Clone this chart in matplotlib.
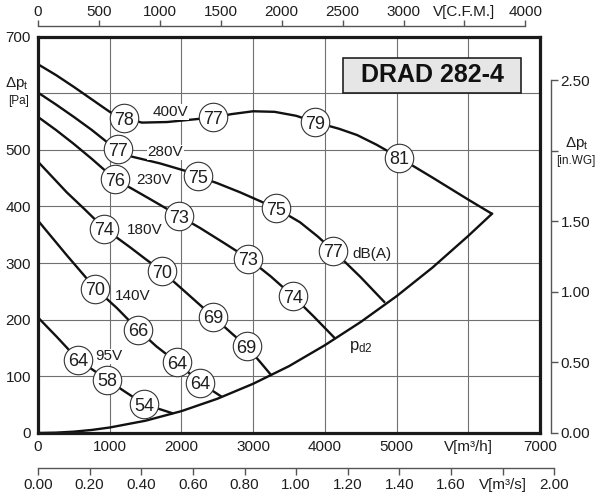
import matplotlib
matplotlib.use('Agg')
import matplotlib.pyplot as plt
from matplotlib.patches import Rectangle

plt.rcParams['font.family'] = ['Liberation Sans', 'DejaVu Sans']
plt.rcParams['mathtext.fontset'] = 'custom'
plt.rcParams['mathtext.rm'] = 'Liberation Sans'
plt.rcParams['mathtext.it'] = 'Liberation Sans'

# ---------------- data (V in m3/h, dp in Pa) ----------------
q_400 = [0, 250, 500, 750, 1000, 1200, 1450, 1800, 2200, 2436, 2700, 3000, 3300, 3600, 3863, 4200, 4450, 4720, 5040, 5500, 6000, 6330]
p_400 = [651, 632, 611, 589, 567, 556, 548, 549, 554, 557, 563, 568, 567, 560, 549, 537, 526, 509, 486, 451, 412, 387]

q_280 = [0, 250, 500, 750, 958, 1120, 1306, 1700, 2050, 2236, 2500, 2817, 3050, 3319, 3654, 3900, 4118, 4500, 4839]
p_280 = [601, 580, 558, 535, 514, 501, 488, 476, 463, 453, 441, 425, 412, 397, 372, 347, 322, 275, 230]

q_230 = [0, 250, 493, 750, 1074, 1300, 1562, 1971, 2259, 2600, 2933, 3250, 3561, 3850, 4142]
p_230 = [558, 535, 511, 484, 448, 432, 413, 383, 362, 335, 308, 276, 241, 205, 167]

q_180 = [0, 200, 400, 650, 925, 1283, 1500, 1725, 2073, 2445, 2700, 2910, 3100, 3259]
p_180 = [479, 452, 425, 395, 361, 328, 307, 286, 247, 205, 176, 153, 125, 101]

q_140 = [0, 400, 800, 1097, 1399, 1650, 1934, 2259, 2561]
p_140 = [375, 314, 255, 221, 182, 153, 125, 89, 64]

q_95 = [0, 260, 562, 967, 1200, 1478, 1700, 1887]
p_95 = [204, 170, 129, 94, 74, 51, 42, 34.4]

q_pd2 = [0, 250, 500, 750, 1000, 1500, 2000, 2500, 3000, 3500, 4000, 4500, 5000, 5500, 6000, 6330]
p_pd2 = [0, 0.6, 2.4, 5.4, 9.7, 21.7, 38.6, 60.4, 86.9, 118, 155, 196, 241.5, 292, 348, 387]

curves = [(q_400, p_400), (q_280, p_280), (q_230, p_230),
          (q_180, p_180), (q_140, p_140), (q_95, p_95)]

# sound power circles: (V, dp, dB(A))
db_q = [1200, 2436, 3863, 5040,
        1120, 2236, 3319, 4118,
        1074, 1971, 2933, 3561,
        925, 1725, 2445, 2910,
        800, 1399, 1934, 2259,
        562, 967, 1478]
db_p = [556, 557, 549, 486,
        501, 453, 397, 322,
        448, 383, 308, 241,
        361, 286, 205, 153,
        255, 182, 125, 89,
        129, 94, 51]
db_val = ['78', '77', '79', '81',
          '77', '75', '75', '77',
          '76', '73', '73', '74',
          '74', '70', '69', '69',
          '70', '66', '64', '64',
          '64', '58', '54']

volt_labels = ['400V', '280V', '230V', '180V', '140V', '95V']
volt_q = [1600, 1530, 1376, 1237, 1074, 795]
volt_p = [569, 498, 449, 361, 244, 138]

x_ticks = [0, 1000, 2000, 3000, 4000, 5000, 6000, 7000]
x_labels = ['0', '1000', '2000', '3000', '4000', '5000', 'V[m³/h]', '7000']
y_ticks = [0, 100, 200, 300, 400, 500, 600, 700]
y_labels = ['0', '100', '200', '300', '400', '500', '', '700']
cfm_ticks = [0, 500, 1000, 1500, 2000, 2500, 3000, 3500, 4000]
cfm_labels = ['0', '500', '1000', '1500', '2000', '2500', '3000', 'V[C.F.M.]', '4000']
ms_ticks = [0.0, 0.2, 0.4, 0.6, 0.8, 1.0, 1.2, 1.4, 1.6, 1.8, 2.0]
ms_labels = ['0.00', '0.20', '0.40', '0.60', '0.80', '1.00', '1.20', '1.40', '1.60', 'V[m³/s]', '2.00']
wg_ticks = [0.0, 0.5, 1.0, 1.5, 2.0, 2.5]
wg_labels = ['0.00', '0.50', '1.00', '1.50', '', '2.50']

# ---------------- figure ----------------
W, H = 600, 500
fig = plt.figure(figsize=(6, 5), dpi=100)
L, R = 38 / W, 540 / W
B, T = 1 - 433 / H, 1 - 36.5 / H
ax = fig.add_axes([L, B, R - L, T - B])
ax.set_xlim(0, 7000)
ax.set_ylim(0, 700)

TXT = '#1e1e1e'
FS = 11

ax.set_xticks(x_ticks)
ax.set_xticklabels(x_labels)
ax.set_yticks(y_ticks)
ax.set_yticklabels(y_labels)
ax.tick_params(length=0, labelsize=FS, colors=TXT)
ax.tick_params(axis='x', pad=5)
ax.tick_params(axis='y', pad=5)
ax.grid(True, color='#707070', lw=0.8, zorder=1)
ax.set_axisbelow(True)
for s in ax.spines.values():
    s.set_linewidth(2.3)
    s.set_color('#1a1a1a')
    s.set_zorder(6)

for q, p in curves:
    ax.plot(q, p, color='#111111', lw=1.7, zorder=3, solid_capstyle='butt')
ax.plot(q_pd2, p_pd2, color='#111111', lw=1.7, zorder=3)

ax.plot(db_q, db_p, 'o', ms=20.5, mfc='white', mec='#333333', mew=0.8, zorder=4)
for q, p, t in zip(db_q, db_p, db_val):
    ax.text(q, p, t, ha='center', va='center_baseline', fontsize=13,
            color=TXT, zorder=5)

for t, q, p in zip(volt_labels, volt_q, volt_p):
    ax.text(q, p, t, ha='left', va='center_baseline', fontsize=FS, color=TXT,
            zorder=5, bbox=dict(fc='white', ec='none', pad=0.5))

ax.text(4390, 319, 'dB(A)', ha='left', va='center_baseline', fontsize=FS,
        color=TXT, zorder=5)
ax.text(4330, 152, r'$\mathregular{p_{d2}}$', ha='left', va='center',
        fontsize=FS + 1, color=TXT, zorder=5)

# title box
ax.add_patch(Rectangle((0.608, 0.858), 0.354, 0.088, transform=ax.transAxes,
                       fc='#e6e6e6', ec='#222222', lw=1.2, zorder=6))
ax.text(0.785, 0.902, 'DRAD 282-4', transform=ax.transAxes, ha='center',
        va='center', fontsize=18, fontweight='bold', color='#111111',
        zorder=7)

# left axis title
fig.text(17 / W, 1 - 84 / H, r'$\mathregular{\Delta p_t}$', ha='center',
         va='center', fontsize=FS, color=TXT)
fig.text(19 / W, 1 - 101 / H, '[Pa]', ha='center', va='center',
         fontsize=8.5, color=TXT)

OUT = '#555555'
# top C.F.M. axis
cfm_w = 4000 * 1.69901 / 7000 * (R - L)
axT = fig.add_axes([L, 1 - 26 / H, cfm_w, 1e-4])
axT.set_xlim(0, 4000)
axT.set_yticks([])
for k in ['left', 'right', 'bottom']:
    axT.spines[k].set_visible(False)
axT.spines['top'].set_color(OUT)
axT.spines['top'].set_linewidth(1.0)
axT.patch.set_visible(False)
axT.set_xticks(cfm_ticks)
axT.set_xticklabels(cfm_labels)
axT.tick_params(axis='x', bottom=False, labelbottom=False, top=True,
                labeltop=True, direction='out', length=4.5, width=1.0,
                color=OUT, labelcolor=TXT, labelsize=FS, pad=0.5)

# bottom m3/s axis
ms_w = 2.0 * 3600 / 7000 * (R - L)
axB = fig.add_axes([L, 1 - 468 / H, ms_w, 1e-4])
axB.set_xlim(0, 2.0)
axB.set_yticks([])
for k in ['left', 'right', 'top']:
    axB.spines[k].set_visible(False)
axB.spines['bottom'].set_color(OUT)
axB.spines['bottom'].set_linewidth(1.0)
axB.patch.set_visible(False)
axB.set_xticks(ms_ticks)
axB.set_xticklabels(ms_labels)
axB.tick_params(axis='x', direction='out', length=5, width=1.0, color=OUT,
                labelcolor=TXT, labelsize=FS, pad=2)

# right in.WG axis
wg_h = 2.5 * 249.089 / 700 * (T - B)
axR = fig.add_axes([550.7 / W - 1e-4, B, 1e-4, wg_h])
axR.set_ylim(0, 2.5)
axR.set_xticks([])
for k in ['left', 'top', 'bottom']:
    axR.spines[k].set_visible(False)
axR.spines['right'].set_color(OUT)
axR.spines['right'].set_linewidth(1.0)
axR.patch.set_visible(False)
axR.set_yticks(wg_ticks)
axR.set_yticklabels(wg_labels)
axR.tick_params(axis='y', left=False, labelleft=False, right=True,
                labelright=True, direction='out', length=5, width=1.0,
                color=OUT, labelcolor=TXT, labelsize=FS, pad=2)
fig.text(577 / W, 1 - 143 / H, r'$\mathregular{\Delta p_t}$', ha='center',
         va='center', fontsize=FS, color=TXT)
fig.text(576 / W, 1 - 161 / H, '[in.WG]', ha='center', va='center',
         fontsize=8.5, color=TXT)

fig.savefig('out.png', dpi=100, facecolor='white')
